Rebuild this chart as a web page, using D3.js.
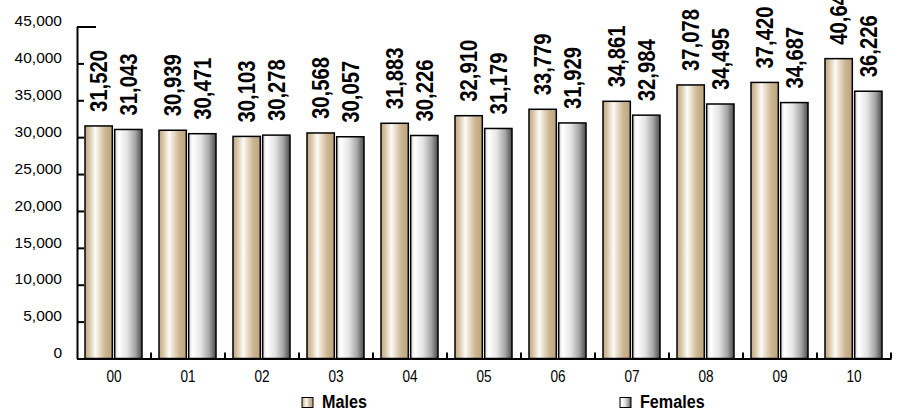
<!DOCTYPE html>
<html>
<head>
<meta charset="utf-8">
<script src="https://cdn.jsdelivr.net/npm/d3@7"></script>
<style>
  html, body { margin: 0; padding: 0; background: #fff; }
  svg { display: block; }
  text { font-family: Arial, "Liberation Sans", sans-serif; fill: #000; }
</style>
</head>
<body>
<svg id="chart" width="901" height="411"></svg>
<script>
const categories = ["00","01","02","03","04","05","06","07","08","09","10"];
const seriesNames = ["Males","Females"];
const males   = [31520, 30939, 30103, 30568, 31883, 32910, 33779, 34861, 37078, 37420, 40643];
const females = [31043, 30471, 30278, 30057, 30226, 31179, 31929, 32984, 34495, 34687, 36226];
const yTicks = [0, 5000, 10000, 15000, 20000, 25000, 30000, 35000, 40000, 45000];

const svg = d3.select("#chart");
const fmt = d3.format(",");

// gradients
const defs = svg.append("defs");
const gM = defs.append("linearGradient").attr("id","gradM").attr("x1","0").attr("x2","1").attr("y1","0").attr("y2","0");
[["0%","#c2a982"],["12%","#d2bd9c"],["38%","#fdfbf7"],["50%","#ece2d2"],["75%","#cbb491"],["100%","#bea47b"]]
  .forEach(s => gM.append("stop").attr("offset", s[0]).attr("stop-color", s[1]));
const gF = defs.append("linearGradient").attr("id","gradF").attr("x1","0").attr("x2","1").attr("y1","0").attr("y2","0");
[["0%","#d8d8d8"],["15%","#ffffff"],["45%","#e4e4e4"],["75%","#a6a6a6"],["100%","#4a4a4a"]]
  .forEach(s => gF.append("stop").attr("offset", s[0]).attr("stop-color", s[1]));
const fills = {Males: "url(#gradM)", Females: "url(#gradF)"};

const x0 = d3.scaleBand().domain(categories).range([77, 891]).padding(0);
const x1 = d3.scaleBand().domain(seriesNames).range([8, 65]).paddingInner(0.08);
const y = d3.scaleLinear().domain([0, 45000]).range([358.5, 26.5]);

const data = categories.map((c, i) => ({cat: c, values: [
  {name: "Males", v: males[i]}, {name: "Females", v: females[i]}
]}));

// bars
const groups = svg.append("g").selectAll("g").data(data).join("g")
  .attr("transform", d => `translate(${x0(d.cat)},0)`);
groups.selectAll("rect").data(d => d.values).join("rect")
  .attr("x", d => x1(d.name))
  .attr("y", d => y(d.v))
  .attr("width", x1.bandwidth())
  .attr("height", d => y(0) - y(d.v))
  .attr("fill", d => fills[d.name])
  .attr("stroke", "#000")
  .attr("stroke-width", 1.5);

// value labels
groups.selectAll("text").data(d => d.values).join("text")
  .attr("transform", d => `translate(${x1(d.name) + x1.bandwidth()/2},${y(d.v) - 14}) rotate(-90) scale(0.88,1)`)
  .attr("dy", "0.36em")
  .attr("text-anchor", "start")
  .style("font-size", "23px")
  .style("font-weight", "bold")
  .text(d => fmt(d.v));

// y axis
const yAxis = svg.append("g").attr("transform", "translate(77,0)")
  .call(d3.axisLeft(y).tickValues(yTicks).tickFormat(fmt).tickSize(-7).tickSizeOuter(0).tickPadding(15));
yAxis.select(".domain").attr("stroke", "#000").attr("stroke-width", 2);
yAxis.selectAll(".tick line").attr("stroke", "#000").attr("stroke-width", 2)
  .filter(d => d === 45000).attr("x2", 19);
yAxis.selectAll(".tick text").style("font-size", "15.5px").attr("dy", "-0.05em").attr("fill", "#000");

// x axis
const xAxis = svg.append("g").attr("transform", `translate(0,${y(0)})`)
  .call(d3.axisBottom(x0).tickSize(0).tickPadding(12));
xAxis.select(".domain").attr("stroke", "#000").attr("stroke-width", 2);
xAxis.selectAll(".tick text").style("font-size", "16px").attr("transform", "scale(0.85,1)").attr("fill", "#000");
svg.append("g").selectAll("line").data(categories).join("line")
  .attr("x1", d => x0(d) + x0.bandwidth())
  .attr("x2", d => x0(d) + x0.bandwidth())
  .attr("y1", y(0))
  .attr("y2", y(0) - 6)
  .attr("stroke", "#000").attr("stroke-width", 2);

// legend
const legendPos = {Males: [302, 322], Females: [620, 640]};
const legend = svg.append("g").selectAll("g").data(seriesNames).join("g");
legend.append("rect")
  .attr("x", d => legendPos[d][0]).attr("y", 397.5)
  .attr("width", 11).attr("height", 10)
  .attr("fill", d => fills[d]).attr("stroke", "#000").attr("stroke-width", 1);
legend.append("text")
  .attr("transform", d => `translate(${legendPos[d][1]},408) scale(0.85,1)`)
  .style("font-size", "19px").style("font-weight", "bold")
  .text(d => d);
</script>
</body>
</html>
